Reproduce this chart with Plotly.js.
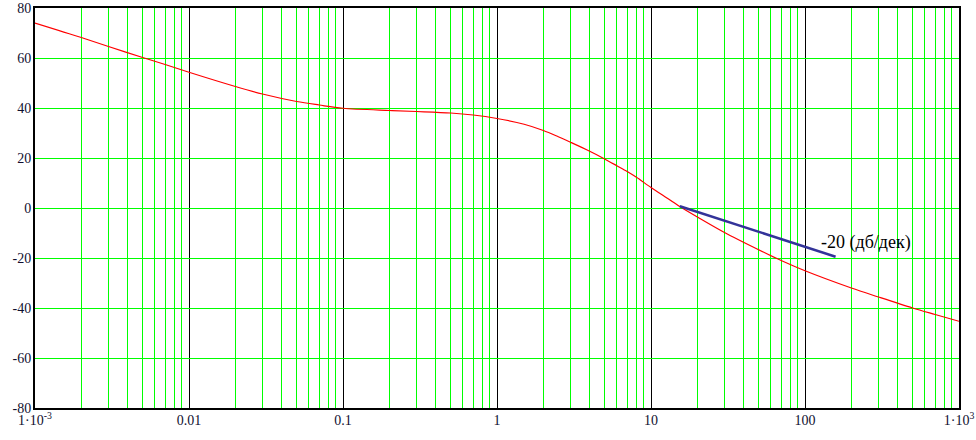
<!DOCTYPE html>
<html>
<head>
<meta charset="utf-8">
<script src="https://cdn.plot.ly/plotly-3.0.1.min.js"></script>
<style>html,body{margin:0;padding:0;background:#fff;}#chart{width:976px;height:440px;}</style>
</head>
<body>
<div id="chart"></div>
<script>
// Red curve (LAFC)
var freq = [0.001, 0.002, 0.003, 0.005, 0.007, 0.01, 0.02, 0.03, 0.05, 0.07, 0.1, 0.2, 0.3, 0.5, 0.7, 1, 1.5, 2, 2.5, 3, 4, 5, 6, 7, 8, 10, 12, 15, 20, 30, 50, 70, 100, 200, 300, 500, 700, 1000];
var gain = [74.0, 68.2, 64.6, 60.2, 57.4, 54.3, 48.6, 45.6, 42.6, 41.2, 39.9, 39.0, 38.6, 38.0, 37.2, 35.8, 33.5, 31.0, 28.5, 26.3, 22.7, 19.6, 16.9, 14.6, 12.4, 8.2, 5.0, 1.0, -3.6, -9.8, -16.7, -21.0, -25.1, -32.0, -35.6, -40.0, -42.6, -45.3];
// Blue asymptote -20 dB/dec
var slopeX = [15.4, 158];
var slopeY = [0.7, -19.5];
// Annotation position
var noteX = [124];
var noteY = [-13.9];
var noteText = ["-20 (дб/дек)"];
// Ticks
var xMajorVals = [0.001, 0.01, 0.1, 1, 10, 100, 1000];
var xMajorText = ["1·10<sup>-3</sup>", "0.01", "0.1", "1", "10", "100", "1·10<sup>3</sup>"];
var xMinorMult = [2, 3, 4, 5, 6, 7, 8, 9];
var yTickVals = [-80, -60, -40, -20, 0, 20, 40, 60, 80];
var yTickText = ["-80", "-60", "-40", "-20", "0", "20", "40", "60", "80"];

var xMinorVals = [];
for (var d = 0; d < xMajorVals.length - 1; d++) {
  for (var m = 0; m < xMinorMult.length; m++) xMinorVals.push(xMajorVals[d] * xMinorMult[m]);
}

var serif = "Liberation Serif";
var tickFont = {family: serif, size: 14, color: "#101030"};

var traces = [
  {x: freq, y: gain, type: "scatter", mode: "lines", line: {color: "#ff0000", width: 1.2, shape: "spline", smoothing: 0.9}, hoverinfo: "skip"},
  {x: slopeX, y: slopeY, type: "scatter", mode: "lines", line: {color: "#333399", width: 2.5}, hoverinfo: "skip"}
];

var layout = {
  width: 976, height: 440,
  margin: {l: 35, r: 17, t: 8, b: 32, pad: 0},
  paper_bgcolor: "#ffffff", plot_bgcolor: "#ffffff",
  showlegend: false,
  font: {family: serif, size: 14},
  xaxis: {
    type: "log", range: [-3, 3],
    tickmode: "array", tickvals: xMajorVals, ticktext: xMajorText,
    showgrid: true, gridcolor: "#000000", gridwidth: 1,
    minor: {tickmode: "array", tickvals: xMinorVals, showgrid: true, gridcolor: "#00ff00", gridwidth: 1, ticks: ""},
    ticks: "", showline: true, mirror: true, linecolor: "#000000", linewidth: 2,
    zeroline: false, tickfont: tickFont, ticklabelstandoff: -2
  },
  yaxis: {
    range: [-80, 80],
    tickmode: "array", tickvals: yTickVals, ticktext: yTickText,
    showgrid: true, gridcolor: "#00ff00", gridwidth: 1,
    ticks: "", showline: true, mirror: true, linecolor: "#000000", linewidth: 2,
    zeroline: false, tickfont: tickFont, ticklabelstandoff: -1
  },
  annotations: [
    {x: Math.log10(noteX[0]), y: noteY[0], xref: "x", yref: "y", text: noteText[0], showarrow: false,
     xanchor: "left", yanchor: "middle", font: {family: serif, size: 18, color: "#000000"}},
    {x: 0, y: -0.072, xref: "x", yref: "paper", text: "ω", showarrow: false, xanchor: "center", yanchor: "top",
     font: {family: serif, size: 15, color: "#101030"}}
  ]
};

Plotly.newPlot("chart", traces, layout, {displayModeBar: false, staticPlot: true});
</script>
</body>
</html>
